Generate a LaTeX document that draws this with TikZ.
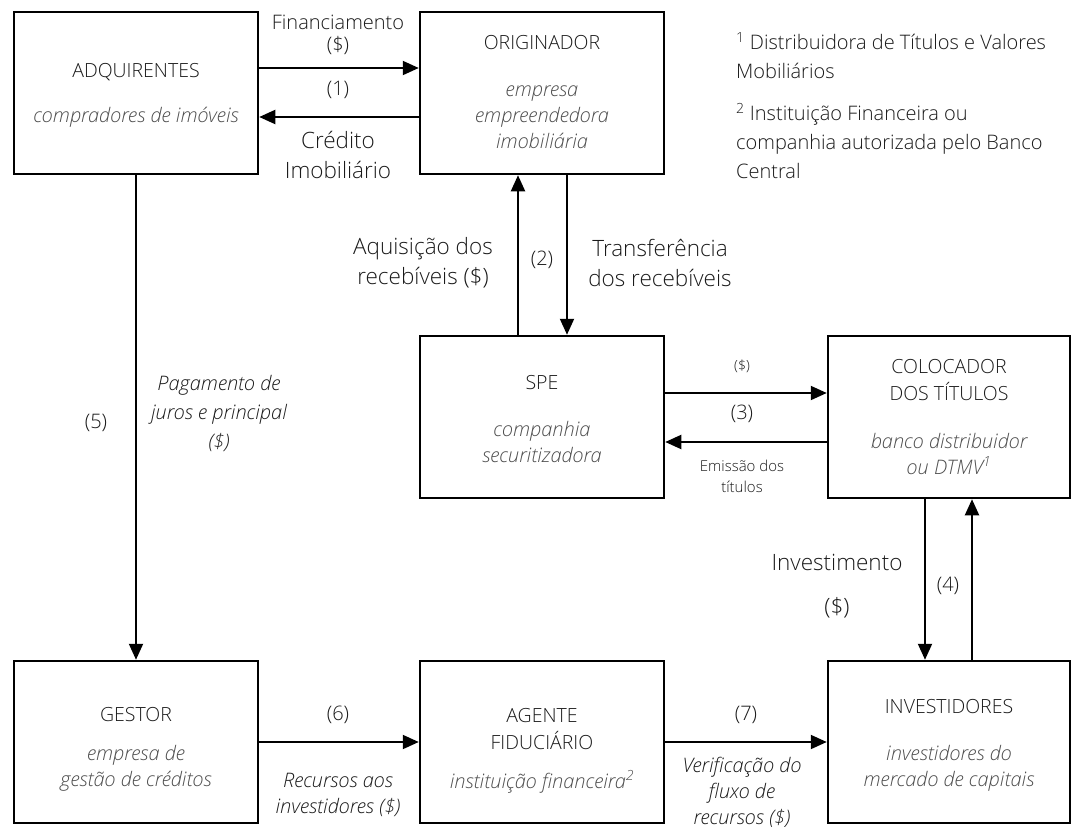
\documentclass[tikz,border=0pt]{standalone}
\usepackage{fontspec}
\setmainfont{Open Sans}[UprightFont={* Light},ItalicFont={* Light Italic}]
\usetikzlibrary{arrows.meta}
\definecolor{tc}{HTML}{1A1A1A}
\definecolor{ic}{HTML}{4D4D4D}
\begin{document}
\begin{tikzpicture}[x=1pt,y=-1pt,
 box/.style={draw=black,line width=2.5pt,minimum width=244pt,minimum height=162pt,inner sep=0pt},
 arr/.style={line width=2pt,-{Triangle[length=16pt,width=14pt]}},
 ttl/.style={font=\fontsize{19.5}{27}\selectfont,text=tc,align=center,inner sep=0pt},
 sub/.style={font=\fontsize{20}{26}\selectfont\itshape,text=ic,align=center,inner sep=0pt},
 big/.style={font=\fontsize{22.5}{30}\selectfont,text=tc,align=center,inner sep=0pt},
 bigit/.style={font=\fontsize{20}{29}\selectfont\itshape,text=tc,align=center,inner sep=0pt},
 lbl/.style={font=\fontsize{20}{22}\selectfont,text=tc,align=center,inner sep=0pt},
 lblit/.style={font=\fontsize{20}{26}\selectfont\itshape,text=tc,align=center,inner sep=0pt},
 small/.style={font=\fontsize{15}{21}\selectfont,text=tc,align=center,inner sep=0pt},
 tiny/.style={font=\fontsize{14}{14}\selectfont,text=tc,align=center,inner sep=0pt},
 note/.style={font=\fontsize{20}{29}\selectfont,text=tc,align=left,inner sep=0pt,anchor=west},
]
\useasboundingbox (0,0) rectangle (1074,827);
% boxes
\node[box] (adq) at (136,93) {};
\node[box] (orig) at (542,93) {};
\node[box] (spe) at (542,417) {};
\node[box,minimum width=242pt] (col) at (949,417) {};
\node[box] (ges) at (136,742) {};
\node[box] (age) at (542,742) {};
\node[box,minimum width=242pt] (inv) at (949,742) {};
% box texts
\node[ttl] (adqT) at (136,72) {ADQUIRENTES};
\node[sub] (adqS) at (136,117) {compradores de imóveis};
\node[ttl] (origT) at (542,43) {ORIGINADOR};
\node[sub] (origS) at (542,117) {empresa\\empreendedora\\imobiliária};
\node[ttl] (speT) at (542,383) {SPE};
\node[sub] (speS) at (542,441.5) {companhia\\securitizadora};
\node[ttl] (colT) at (949,380) {COLOCADOR\\DOS TÍTULOS};
\node[sub] (colS) at (949,453.5) {banco distribuidor\\ou DTMV\textsuperscript{1}};
\node[ttl] (gesT) at (136,715) {GESTOR};
\node[sub] (gesS) at (136,768.5) {empresa de\\gestão de créditos};
\node[ttl] (ageT) at (542,729) {AGENTE\\FIDUCIÁRIO};
\node[sub] (ageS) at (542,782) {instituição financeira\textsuperscript{2}};
\node[ttl] (invT) at (949,707) {INVESTIDORES};
\node[sub] (invS) at (949,768.5) {investidores do\\mercado de capitais};
% connectors
\draw[arr] ([yshift=25pt]adq.east) -- ([yshift=25pt]orig.west);
\draw[arr] ([yshift=-24pt]orig.west) -- ([yshift=-24pt]adq.east);
\draw[arr] ([xshift=-24pt]spe.north) -- ([xshift=-24pt]orig.south);
\draw[arr] ([xshift=25pt]orig.south) -- ([xshift=25pt]spe.north);
\draw[arr] ([yshift=24pt]spe.east) -- ([yshift=24pt]col.west);
\draw[arr] ([yshift=-25pt]col.west) -- ([yshift=-25pt]spe.east);
\draw[arr] ([xshift=-24pt]col.south) -- ([xshift=-24pt]inv.north);
\draw[arr] ([xshift=23pt]inv.north) -- ([xshift=23pt]col.south);
\draw[arr] (adq.south) -- (ges.north);
\draw[arr] (ges.east) -- (age.west);
\draw[arr] (age.east) -- (inv.west);
% connector labels
\node[lbl] (l1a) at (338,35) {Financiamento\\(\$)};
\node[lbl] (l1) at (338,90) {(1)};
\node[big] (l1b) at (338,155) {Crédito\\Imobiliário};
\node[big] (l2a) at (423,263) {Aquisição dos\\recebíveis (\$)};
\node[lbl] (l2) at (542,260) {(2)};
\node[big] (l2b) at (660,263) {Transferência\\dos recebíveis};
\node[tiny] (l3a) at (742,366) {(\$)};
\node[lbl] (l3) at (742,414) {(3)};
\node[small] (l3b) at (742,476.5) {Emissão dos\\títulos};
\node[big] (l4a) at (837,562) {Investimento};
\node[big] (l4b) at (837,608) {(\$)};
\node[lbl] (l4) at (948,586) {(4)};
\node[lbl] (l5) at (96,423) {(5)};
\node[bigit] (l5a) at (219,413) {Pagamento de\\juros e principal\\(\$)};
\node[lbl] (l6) at (338,715) {(6)};
\node[lblit] (l6a) at (338,795) {Recursos aos\\investidores (\$)};
\node[lbl] (l7) at (746,715) {(7)};
\node[lblit] (l7a) at (742,792) {Verificação do\\fluxo de\\recursos (\$)};
% footnotes
\node[note] (n1) at (736,55.5) {\textsuperscript{1} Distribuidora de Títulos e Valores\\Mobiliários};
\node[note] (n2) at (736,141) {\textsuperscript{2} Instituição Financeira ou\\companhia autorizada pelo Banco\\Central};
\end{tikzpicture}
\end{document}
